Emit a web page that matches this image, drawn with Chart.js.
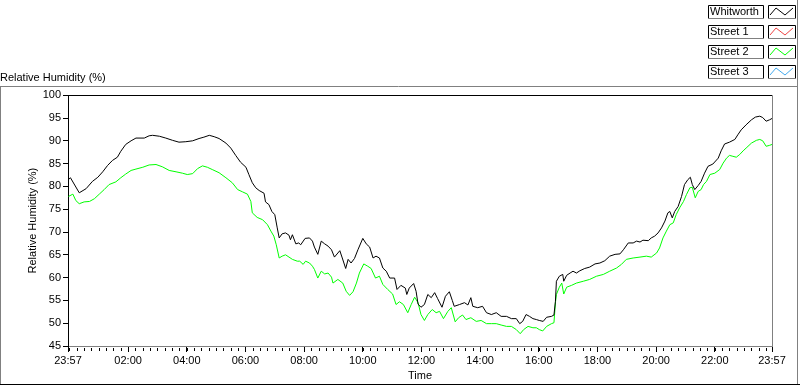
<!DOCTYPE html>
<html>
<head>
<meta charset="utf-8">
<script src="https://cdn.jsdelivr.net/npm/chart.js@4/dist/chart.umd.min.js"></script>
<style>
  html, body { margin: 0; padding: 0; background: #fff; }
  canvas { display: block; }
</style>
</head>
<body>
<canvas id="rhChart" width="800" height="386"></canvas>
<script>
'use strict'

// minutes after 23:57 (start of the log)
const whitworthMin = [1,5,23,37,50,61,71,81,91,101,108,118,129,139,156,166,173,187,200,214,227,241,255,268,278,289,299,309,323,333,343,353,364,370,377,384,391,401,404,411,417,423,428,432,438,445,452,455,459,466,472,476,485,494,500,504,511,518,525,532,539,545,556,561,568,573,579,586,593,603,610,617,624,630,637,644,651,658,668,673,681,690,693,698,707,712,716,722,729,736,743,750,756,765,772,780,786,790,801,811,818,824,828,838,848,856,866,876,886,897,907,917,924,930,937,944,951,958,964,972,979,989,994,997,999,1005,1012,1014,1020,1027,1033,1040,1047,1057,1067,1078,1088,1098,1108,1119,1129,1136,1146,1156,1163,1170,1176,1187,1193,1200,1207,1214,1221,1227,1231,1236,1241,1248,1255,1261,1268,1273,1277,1282,1289,1295,1302,1309,1319,1330,1336,1343,1353,1364,1370,1377,1387,1398,1406,1415,1421,1428,1435,1440];
const whitworthRH = [81.5,81.9,78.6,79.5,81.1,82.0,83.2,84.6,85.7,86.4,87.7,89.2,90.0,90.6,90.6,91.1,91.2,91.0,90.6,90.1,89.7,89.8,90.0,90.5,90.8,91.2,90.9,90.5,89.5,88.4,86.8,85.3,84.2,82.6,80.8,79.7,79.1,78.5,76.6,76.0,74.5,73.8,70.9,68.7,69.6,69.8,69.3,68.3,69.4,67.4,67.6,67.2,68.6,68.7,68.0,66.7,65.1,68.0,67.4,66.9,66.1,64.5,65.9,64.3,62.0,64.0,63.2,64.2,66.1,68.6,67.4,66.7,64.3,64.7,64.3,62.1,61.4,59.9,59.9,57.4,58.3,57.7,56.3,57.7,58.7,57.0,54.2,53.5,54.1,56.3,55.6,56.7,55.4,53.5,55.9,56.9,55.0,53.7,54.1,54.5,54.0,55.6,53.7,53.4,53.7,52.3,51.9,52.3,51.5,51.5,51.0,51.0,49.9,50.4,51.9,51.5,51.0,50.8,50.6,50.4,51.3,51.5,51.8,54.8,59.2,60.3,60.7,59.2,60.5,61.0,61.4,61.0,61.5,62.0,62.3,63.0,63.2,63.7,64.7,65.1,65.2,66.1,67.6,67.6,68.0,67.8,68.2,68.1,68.7,69.1,69.8,70.9,72.4,74.2,74.5,73.1,74.5,75.6,77.8,80.4,81.5,82.0,80.4,79.3,80.2,81.1,82.9,84.4,84.9,86.2,87.8,89.3,89.7,90.3,91.3,92.4,93.5,94.6,95.2,95.4,95.1,94.3,94.6,94.9];

const street2Min = [1,10,16,23,33,44,54,64,74,84,98,108,118,129,139,153,166,180,193,207,221,234,244,255,265,275,285,295,309,323,336,347,357,367,374,377,387,398,408,415,421,426,432,438,445,452,459,469,474,481,486,494,500,504,511,518,525,532,539,542,552,562,569,576,583,590,596,605,613,620,629,637,644,654,664,671,678,686,695,702,709,716,722,729,736,745,753,760,768,777,784,792,799,807,814,824,835,845,856,866,876,886,897,907,917,925,932,941,951,958,964,971,979,989,994,997,999,1005,1010,1014,1020,1030,1040,1054,1067,1081,1095,1108,1122,1132,1142,1156,1170,1183,1193,1204,1210,1217,1224,1231,1238,1244,1251,1259,1265,1272,1277,1283,1289,1295,1300,1306,1313,1323,1333,1340,1347,1353,1360,1367,1374,1381,1387,1398,1408,1415,1421,1428,1435,1440];
const street2RH = [77.8,78.3,76.9,76.2,76.6,76.7,77.3,78.3,79.3,80.4,81.0,81.9,82.7,83.5,83.8,84.2,84.7,84.8,84.3,83.5,83.2,82.9,82.6,82.8,83.9,84.5,84.2,83.7,83.0,81.9,80.8,79.3,78.8,78.3,76.7,74.2,73.2,72.7,71.6,70.2,69.1,67.2,64.3,64.7,65.0,64.5,64.0,63.6,63.6,62.9,63.6,63.2,62.5,61.8,59.9,61.4,60.8,61.0,60.1,58.8,59.6,58.8,57.0,56.1,56.9,58.8,61.0,63.0,62.5,62.0,59.9,60.3,58.5,57.4,56.4,54.1,54.7,54.1,52.3,54.1,55.7,54.5,51.9,50.6,51.9,53.0,52.3,52.6,51.0,52.6,53.4,50.3,51.2,51.8,50.8,51.2,50.4,50.6,49.9,49.9,49.9,49.6,49.3,49.3,48.6,47.7,48.6,49.3,49.0,49.0,48.6,48.3,49.3,49.9,50.1,54.5,56.3,57.9,58.8,56.4,57.9,58.3,58.8,59.2,59.6,60.3,60.7,61.4,62.1,62.9,64.0,64.3,64.5,64.7,64.5,65.4,66.5,68.7,70.2,71.6,72.0,73.8,75.3,76.7,78.2,79.7,79.8,77.5,78.9,79.3,80.4,81.1,82.6,82.9,83.7,85.1,86.2,86.8,86.6,86.4,87.0,87.8,88.4,89.5,90.1,90.3,90.0,88.8,89.0,89.2];

// Street 1 / Street 3 have no readings in this plot
const street1Min = [];
const street1RH = [];
const street3Min = [];
const street3RH = [];

const seriesNames = ['Whitworth', 'Street 1', 'Street 2', 'Street 3'];

const xTickMinutes = [0, 123, 243, 363, 483, 603, 723, 843, 963, 1083, 1203, 1323, 1440];
const xTickLabels = ['23:57', '02:00', '04:00', '06:00', '08:00', '10:00', '12:00', '14:00', '16:00', '18:00', '20:00', '22:00', '23:57'];

function pts(mins, vals) {
  return mins.map((m, i) => ({ x: m, y: vals[i] }));
}

Chart.defaults.font.family = "'Liberation Sans', Arial, sans-serif";
Chart.defaults.font.size = 11;
Chart.defaults.color = '#000';

// frame, minor ticks and the LabVIEW style legend
const framePlugin = {
  id: 'frame',
  afterDraw(chart) {
    const ctx = chart.ctx;
    const a = chart.chartArea;
    const xs = chart.scales.x;
    ctx.save();
    ctx.lineWidth = 1;

    // minor ticks every 15 min
    ctx.strokeStyle = '#000';
    ctx.beginPath();
    for (let m = 3; m < 1440; m += 15) {
      const px = Math.round(xs.getPixelForValue(m)) + 0.5;
      ctx.moveTo(px, a.bottom + 2);
      ctx.lineTo(px, a.bottom + 5);
    }
    ctx.stroke();

    // plot border: top black, right grey
    ctx.strokeStyle = '#000';
    ctx.beginPath();
    ctx.moveTo(a.left, Math.round(a.top) + 0.5);
    ctx.lineTo(a.right, Math.round(a.top) + 0.5);
    ctx.stroke();
    ctx.strokeStyle = '#808080';
    ctx.beginPath();
    ctx.moveTo(Math.round(a.right) + 0.5, a.top);
    ctx.lineTo(Math.round(a.right) + 0.5, a.bottom);
    ctx.stroke();

    // outer panel
    ctx.strokeStyle = '#808080';
    ctx.beginPath();
    ctx.moveTo(0, 86.5); ctx.lineTo(797, 86.5);
    ctx.moveTo(0.5, 86); ctx.lineTo(0.5, 384);
    ctx.moveTo(797.5, 0); ctx.lineTo(797.5, 384);
    ctx.stroke();
    ctx.strokeStyle = '#000';
    ctx.beginPath();
    ctx.moveTo(0, 384.5); ctx.lineTo(800, 384.5);
    ctx.stroke();

    // legend
    ctx.font = "11px 'Liberation Sans', Arial, sans-serif";
    ctx.textBaseline = 'middle';
    ctx.textAlign = 'left';
    chart.data.datasets.forEach((ds, i) => {
      const top = 5 + i * 20;
      const h = 13;
      [[708, 763], [768, 795]].forEach(b => {
        ctx.fillStyle = '#fff';
        ctx.fillRect(b[0], top, b[1] - b[0], h);
        ctx.strokeStyle = '#000';
        ctx.beginPath();
        ctx.moveTo(b[0] + 0.5, top + h);
        ctx.lineTo(b[0] + 0.5, top + 0.5);
        ctx.lineTo(b[1] + 0.5, top + 0.5);
        ctx.lineTo(b[1] + 0.5, top + h);
        ctx.stroke();
        ctx.strokeStyle = '#808080';
        ctx.beginPath();
        ctx.moveTo(b[0], top + h + 0.5);
        ctx.lineTo(b[1] + 1, top + h + 0.5);
        ctx.stroke();
      });
      ctx.fillStyle = '#000';
      ctx.fillText(ds.label, 710, top + 7);
      ctx.strokeStyle = ds.borderColor;
      ctx.beginPath();
      ctx.moveTo(770, top + 10);
      ctx.lineTo(776, top + 3);
      ctx.lineTo(785, top + 10);
      ctx.lineTo(793, top + 3);
      ctx.stroke();
    });
    ctx.restore();
  }
};

const ctx = document.getElementById('rhChart').getContext('2d');
const rhChart = new Chart(ctx, {
  type: 'line',
  data: {
    datasets: [
      { label: seriesNames[0], data: pts(whitworthMin, whitworthRH), borderColor: '#000000' },
      { label: seriesNames[1], data: pts(street1Min, street1RH), borderColor: '#ee4444' },
      { label: seriesNames[2], data: pts(street2Min, street2RH), borderColor: '#00ff00' },
      { label: seriesNames[3], data: pts(street3Min, street3RH), borderColor: '#44aaee' }
    ]
  },
  options: {
    responsive: false,
    animation: false,
    devicePixelRatio: 1,
    layout: { padding: { left: 0, right: 28, top: 0, bottom: 0 } },
    elements: {
      line: { borderWidth: 1, tension: 0, fill: false },
      point: { radius: 0 }
    },
    scales: {
      x: {
        type: 'linear',
        min: 0,
        max: 1440,
        afterFit: s => { s.height = 40; },
        afterBuildTicks: s => { s.ticks = xTickMinutes.map(v => ({ value: v })); },
        grid: { drawOnChartArea: false, drawTicks: true, tickLength: 6, color: '#000' },
        border: { color: '#808080' },
        ticks: {
          autoSkip: false,
          maxRotation: 0,
          padding: 2,
          callback: (v, i) => xTickLabels[i]
        },
        title: { display: true, text: 'Time', padding: { top: 0, bottom: 3 } }
      },
      y: {
        min: 45,
        max: 100,
        afterFit: s => { s.width = 68; },
        grid: { drawOnChartArea: false, drawTicks: true, tickLength: 5, color: '#000' },
        border: { color: '#000' },
        ticks: { stepSize: 5, autoSkip: false, padding: 2 },
        title: { display: true, text: 'Relative Humidity (%)', padding: { top: 26, bottom: 0 } }
      }
    },
    plugins: {
      legend: { display: false },
      tooltip: { enabled: false },
      title: {
        display: true,
        text: 'Relative Humidity (%)',
        align: 'start',
        font: { size: 11, weight: 'normal' },
        padding: { top: 71, bottom: 11 }
      }
    }
  },
  plugins: [framePlugin]
});
</script>
</body>
</html>
